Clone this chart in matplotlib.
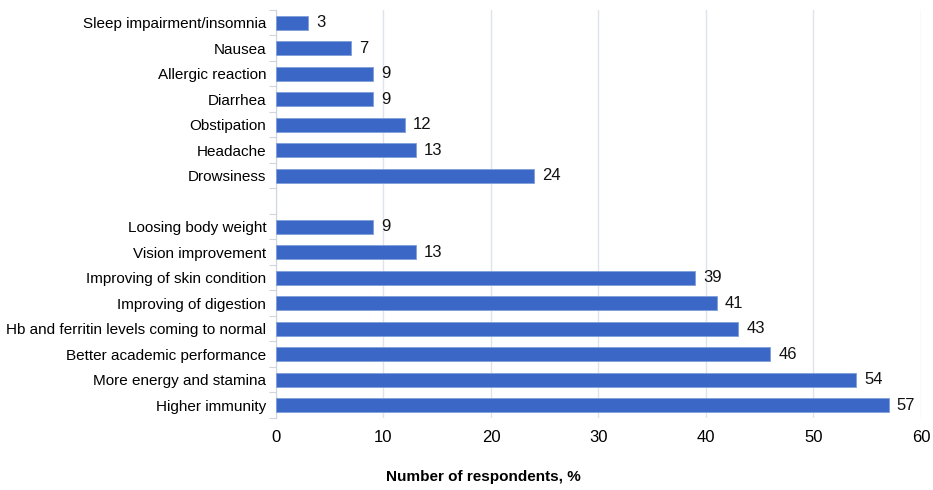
import numpy as np
import matplotlib.pyplot as plt

plt.rcParams['font.family'] = ['Liberation Sans', 'DejaVu Sans']

# categories from top to bottom; '' is the empty separator row
labels = ['Sleep impairment/insomnia', 'Nausea', 'Allergic reaction', 'Diarrhea',
          'Obstipation', 'Headache', 'Drowsiness', '',
          'Loosing body weight', 'Vision improvement', 'Improving of skin condition',
          'Improving of digestion', 'Hb and ferritin levels coming to normal',
          'Better academic performance', 'More energy and stamina', 'Higher immunity']
values = [3, 7, 9, 9, 12, 13, 24, None, 9, 13, 39, 41, 43, 46, 54, 57]

fig = plt.figure(figsize=(9.33, 4.9), dpi=100)
ax = fig.add_axes([0.2958, 0.147, 0.6913, 0.833])

y = np.arange(len(labels))
for yi, v in zip(y, values):
    if v is None:
        continue
    ax.barh(yi, v, height=0.55, color='#3b67c6', edgecolor='#7f9fdc', linewidth=0.6, zorder=3)
    ax.text(v + 0.75, yi, str(v), va='center', ha='left', fontsize=12, color='#111111')

ax.set_ylim(len(labels) - 0.5, -0.5)
ax.set_xlim(0, 60)
ax.set_xticks(np.arange(0, 61, 10))
ax.set_yticks(y)
ax.set_yticklabels(labels, fontsize=11)
ax.tick_params(axis='y', length=0, pad=7)
ax.set_yticks(np.arange(-0.5, len(labels), 1), minor=True)
ax.tick_params(axis='y', which='minor', length=5, color='#d0d5e2', width=0.8)
ax.tick_params(axis='x', length=0, labelsize=12, pad=9)

ax.grid(axis='x', color='#dfe3ec', linewidth=1, zorder=0)
for s in ['top', 'right', 'bottom']:
    ax.spines[s].set_visible(False)
ax.spines['left'].set_color('#d0d5e2')

fig.text(0.518, 0.012, 'Number of respondents, %', ha='center', va='bottom',
         fontsize=11, fontweight='bold')

fig.savefig('out.png', dpi=100)
